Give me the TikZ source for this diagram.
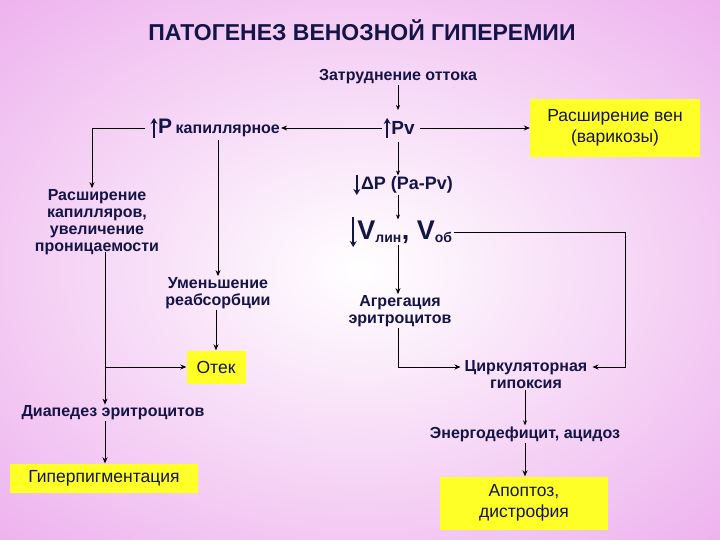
\documentclass[tikz,border=0pt]{standalone}
\usepackage{fontspec}
\setmainfont{Liberation Sans}
\usetikzlibrary{arrows.meta}
\definecolor{navy}{RGB}{20,20,70}
\definecolor{ybox}{RGB}{255,255,40}
\definecolor{pinkbg}{RGB}{238,180,238}
\begin{document}
\begin{tikzpicture}[x=1pt,y=-1pt,
  every node/.style={text=navy,font=\bfseries\fontsize{16}{17}\selectfont,align=center,inner sep=1pt},
  ybox/.style={fill=ybox,font=\fontsize{17.5}{21}\selectfont,inner sep=3pt},
  conn/.style={draw=black,line width=0.8pt,-{Stealth[length=6pt,width=5pt]}},
  thin/.style={draw=black,line width=0.6pt,-{Stealth[length=5pt,width=4pt]}},
  big/.style={draw=navy,line width=2pt,-{Stealth[length=6pt,width=7pt]}}]
\useasboundingbox (0,0) rectangle (720,540);
\shade[inner color=white,outer color=pinkbg] (-150,-100) rectangle (870,640);
\node (title) at (362,30) {\fontsize{23}{26}\selectfont ПАТОГЕНЕЗ ВЕНОЗНОЙ ГИПЕРЕМИИ};
\node (zat) at (398,77) {Затруднение оттока};
\node (pv) at (403,128) {\fontsize{19}{21}\selectfont Pv};
\node[anchor=west] (pk) at (157,128) {\fontsize{21}{23}\selectfont P\,\fontsize{16}{17}\selectfont капиллярное};
\node[ybox,minimum width=170,minimum height=58] (ven) at (615,128) {Расширение вен\\(варикозы)};
\node (rk) at (97,222) {Расширение\\капилляров,\\увеличение\\проницаемости};
\node (um) at (218,293) {Уменьшение\\реабсорбции};
\node[ybox,minimum width=59,minimum height=33] (otek) at (216,367) {Отек};
\node (dia) at (113,413) {Диапедез эритроцитов};
\node[ybox,minimum width=188,minimum height=29] (gip) at (104,478) {Гиперпигментация};
\node (dp) at (407,185) {\fontsize{18}{20}\selectfont ΔP (Pa-Pv)};
\node (v) at (405,232) {\fontsize{27}{29}\selectfont V\textsubscript{\fontsize{14}{14}\selectfont лин}, V\textsubscript{\fontsize{14}{14}\selectfont об}};
\node (agr) at (400,311) {Агрегация\\эритроцитов};
\node (cir) at (526,375) {Циркуляторная\\гипоксия};
\node (en) at (525,434) {Энергодефицит, ацидоз};
\node[ybox,minimum width=168,minimum height=53] (apo) at (524,503) {Апоптоз,\\дистрофия};
% status arrows
\draw[big] ([xshift=-3]pv.west) ++(0,10) -- ++(0,-20);
\draw[big] ([xshift=-3]pk.west) ++(0,10) -- ++(0,-20);
\draw[big] ([xshift=-3]dp.west) ++(0,-10) -- ++(0,20);
\draw[big] ([xshift=-3]v.west) ++(0,-15) -- ++(0,30);
% connectors
\draw[thin] (zat) -- (398,110);
\draw[conn] ([xshift=-8]pv.west) -- (pk.east);
\draw[conn] ([xshift=4]pv.east) -- (ven.west);
\draw[conn] ([xshift=-12]pk.west) -- (92,128) -- (rk.north -| 92,0);
\draw[conn] (218,140) -- (um.north);
\draw[conn] (um.south -| 216,0) -- (otek.north);
\draw[conn] (105,252) -- (dia.north -| 105,0);
\draw[conn] (105,367) -- (otek.west);
\draw[conn] (dia.south -| 105,0) -- (gip.north -| 105,0);
\draw[thin] (398,142) -- (dp.north -| 398,0);
\draw[thin] (dp.south -| 398,0) -- (v.north -| 398,0);
\draw[conn] (v.south -| 398,0) -- (agr.north -| 398,0);
\draw[conn] (v.east) -- (625,232) -- (625,367) -- ([xshift=4]cir.east |- 0,367);
\draw[conn] (agr.south -| 398,0) -- (398,367) -- ([xshift=-3]cir.west |- 0,367);
\draw[thin] (cir.south -| 525,0) -- (en.north -| 525,0);
\draw[conn] (en.south -| 525,0) -- (apo.north -| 525,0);
\end{tikzpicture}
\end{document}
